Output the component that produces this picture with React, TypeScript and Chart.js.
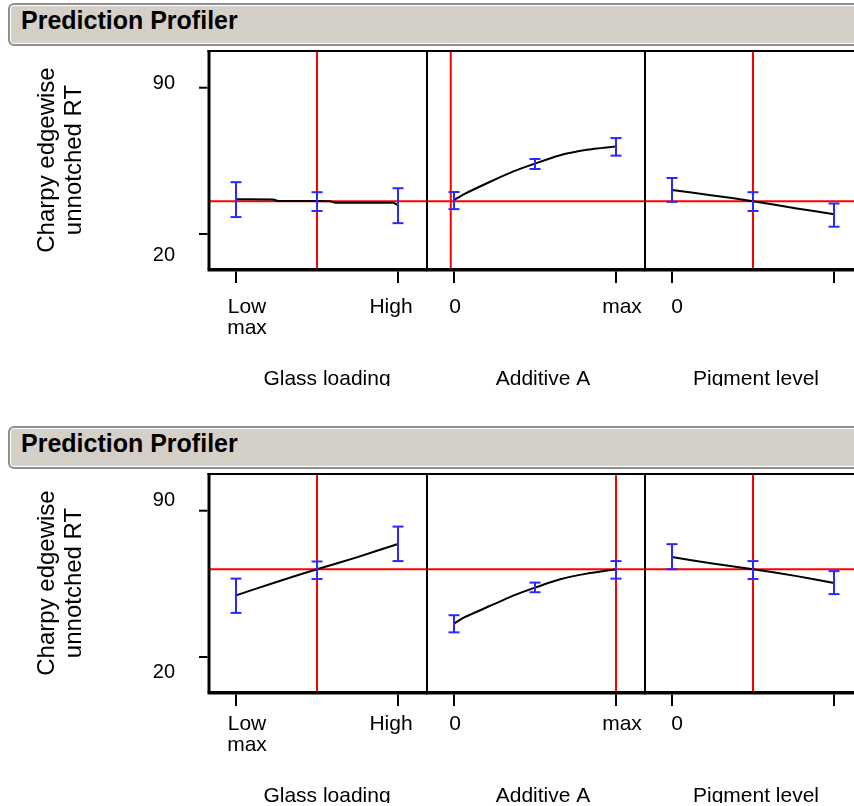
import React, { useEffect, useRef } from "react";
import { Chart, registerables } from "chart.js";

Chart.register(...registerables);

// ---------------- data ----------------
const headerTitle = "Prediction Profiler";
const responseTitleLines = ["Charpy edgewise", "unnotched RT"];
const factorNames = ["Glass loading", "Additive A", "Pigment level"];
const factorTickValues = [0, 1];
const glassTickLabels = [["Low", "max"], ["High"]];
const additiveTickLabels = [["0"], ["max"]];
const pigmentTickLabels = [["0"], [""]];
const responseTickValues = [90, 20];
const responseTickLabels = ["90", "20"];
const levelPositions = [0, 0.5, 1];

// Profiler 1 (Additive A held at 0)
const p1Predicted = 35.7;
const p1Settings = [0.5, -0.02, 0.5];
const p1GlassX = [0, 0.23, 0.26, 0.58, 0.61, 0.97, 1];
const p1GlassY = [36.6, 36.5, 35.8, 35.7, 35.0, 34.9, 33.8];
const p1GlassLow = [28.1, 31.0, 25.2];
const p1GlassHigh = [44.8, 40.0, 41.9];
const p1AdditiveX = [0, 0.06, 0.22, 0.37, 0.5, 0.65, 0.82, 1];
const p1AdditiveY = [36.2, 39.0, 44.9, 50.1, 53.7, 57.6, 60.3, 61.9];
const p1AdditiveLow = [31.9, 51.1, 57.5];
const p1AdditiveHigh = [40.1, 55.9, 65.9];
const p1PigmentX = [0, 0.24, 0.5, 0.77, 1];
const p1PigmentY = [41.1, 38.6, 35.7, 32.2, 29.5];
const p1PigmentLow = [35.4, 31.0, 23.5];
const p1PigmentHigh = [46.8, 40.0, 34.6];

// Profiler 2 (Additive A held at max)
const p2Predicted = 62.0;
const p2Settings = [0.5, 1, 0.5];
const p2GlassX = [0, 0.25, 0.5, 0.75, 1];
const p2GlassY = [49.5, 55.9, 62.0, 67.8, 74.1];
const p2GlassLow = [41.1, 57.3, 65.9];
const p2GlassHigh = [57.5, 65.7, 82.4];
const p2AdditiveX = [0, 0.06, 0.22, 0.37, 0.5, 0.65, 0.82, 1];
const p2AdditiveY = [36.0, 38.8, 44.4, 49.5, 53.2, 57.1, 59.9, 62.0];
const p2AdditiveLow = [31.8, 51.0, 57.5];
const p2AdditiveHigh = [40.0, 55.6, 65.9];
const p2PigmentX = [0, 0.24, 0.5, 0.77, 1];
const p2PigmentY = [67.8, 64.9, 62.0, 58.7, 55.4];
const p2PigmentLow = [62.0, 57.3, 50.1];
const p2PigmentHigh = [74.0, 65.9, 61.1];

// ---------------- scale ranges & layout ----------------
const X_MIN = -27 / 162;
const X_MAX = 191 / 162;
const Y_MIN = 3.26;
const Y_MAX = 107.56;

const FONT = '"Liberation Sans", Arial, Helvetica, sans-serif';
const RED = "#ff0000";
const BLUE = "#2a2aff";
const PLOT_LEFT = [209, 427, 645];
const PLOT_W = 218;
const PLOT_TOP = 51;
const PLOT_H = 218;
const PAD_T = 5;
const PAD_B = 117;
const PANEL_TOPS = [0, 423];
const PANEL_HEIGHTS = [386, 380];
const PANEL_TEXT_DY = [0, -6];
const TICK_DX = [[11, -7], [1, 6], [5, 0]];
const TITLE_DX = [9, 7, 2];
const Y_LABEL_DY = [1, 27];

type Sub = {
  curveX: number[];
  curveY: number[];
  low: number[];
  high: number[];
  setting: number;
  predicted: number;
  tickLabels: string[][];
};

const panels: Sub[][] = [
  [
    { curveX: p1GlassX, curveY: p1GlassY, low: p1GlassLow, high: p1GlassHigh, setting: p1Settings[0], predicted: p1Predicted, tickLabels: glassTickLabels },
    { curveX: p1AdditiveX, curveY: p1AdditiveY, low: p1AdditiveLow, high: p1AdditiveHigh, setting: p1Settings[1], predicted: p1Predicted, tickLabels: additiveTickLabels },
    { curveX: p1PigmentX, curveY: p1PigmentY, low: p1PigmentLow, high: p1PigmentHigh, setting: p1Settings[2], predicted: p1Predicted, tickLabels: pigmentTickLabels },
  ],
  [
    { curveX: p2GlassX, curveY: p2GlassY, low: p2GlassLow, high: p2GlassHigh, setting: p2Settings[0], predicted: p2Predicted, tickLabels: glassTickLabels },
    { curveX: p2AdditiveX, curveY: p2AdditiveY, low: p2AdditiveLow, high: p2AdditiveHigh, setting: p2Settings[1], predicted: p2Predicted, tickLabels: additiveTickLabels },
    { curveX: p2PigmentX, curveY: p2PigmentY, low: p2PigmentLow, high: p2PigmentHigh, setting: p2Settings[2], predicted: p2Predicted, tickLabels: pigmentTickLabels },
  ],
];

function makeDecor(sub: Sub, idx: number, textDy: number) {
  const isFirst = idx === 0;
  return {
    id: "profilerDecor",
    afterDraw(chart: any) {
      const { ctx, chartArea: a } = chart;
      const xs = chart.scales.x;
      const ys = chart.scales.y;
      ctx.save();
      ctx.strokeStyle = "#000";
      ctx.fillStyle = "#000";
      ctx.lineCap = "butt";
      const seg = (x1: number, y1: number, x2: number, y2: number, w: number) => {
        ctx.lineWidth = w;
        ctx.beginPath();
        ctx.moveTo(x1, y1);
        ctx.lineTo(x2, y2);
        ctx.stroke();
      };
      const leftW = isFirst ? 3 : 2;
      seg(a.left - leftW / 2, a.top, a.right, a.top, 2);
      seg(a.left - leftW / 2, a.bottom + 0.75, a.right, a.bottom + 0.75, 3.5);
      seg(a.left, a.top - 1, a.left, a.bottom, leftW);

      ctx.textBaseline = "alphabetic";
      ctx.textAlign = "center";
      ctx.font = `21px ${FONT}`;
      factorTickValues.forEach((v, i) => {
        const px = xs.getPixelForValue(v);
        seg(px, a.bottom + 2.5, px, a.bottom + 14, 2);
        sub.tickLabels[i].forEach((line, j) => {
          if (line) ctx.fillText(line, px + TICK_DX[idx][i], a.bottom + 44 + j * 21 + textDy);
        });
      });
      ctx.fillText(factorNames[idx], (a.left + a.right) / 2 + TITLE_DX[idx], a.bottom + 116 + textDy);

      if (isFirst) {
        ctx.textAlign = "right";
        ctx.font = `20px ${FONT}`;
        responseTickValues.forEach((v, i) => {
          const py = ys.getPixelForValue(v);
          seg(a.left - 10, py, a.left - 1.5, py, 2);
          ctx.fillText(responseTickLabels[i], a.left - 34, py + Y_LABEL_DY[i] + textDy);
        });
        ctx.font = `24px ${FONT}`;
        ctx.textAlign = "center";
        responseTitleLines.forEach((line, j) => {
          ctx.save();
          ctx.translate(a.left - 155 + j * 27, (a.top + a.bottom) / 2);
          ctx.rotate(-Math.PI / 2);
          ctx.fillText(line, 0, 0);
          ctx.restore();
        });
      }
      ctx.restore();
    },
  };
}

function Cell({ sub, idx, textDy }: { sub: Sub; idx: number; textDy: number }) {
  const ref = useRef<HTMLCanvasElement>(null);
  const padL = idx === 0 ? PLOT_LEFT[0] : 4;
  const padR = 4;
  const w = padL + PLOT_W + padR;
  const h = PAD_T + PLOT_H + PAD_B;
  useEffect(() => {
    const datasets: any[] = [
      { data: [{ x: X_MIN, y: sub.predicted }, { x: X_MAX, y: sub.predicted }], borderColor: RED, borderWidth: 2, pointRadius: 0, order: 4 },
      { data: [{ x: sub.setting, y: Y_MIN }, { x: sub.setting, y: Y_MAX }], borderColor: RED, borderWidth: 2, pointRadius: 0, order: 4 },
      {
        data: sub.curveX.map((x, i) => ({ x, y: sub.curveY[i] })),
        borderColor: "#000",
        borderWidth: 2,
        pointRadius: 0,
        tension: 0.2,
        order: 2,
      },
      ...levelPositions.map((x, i) => ({
        data: [{ x, y: sub.low[i] }, { x, y: sub.high[i] }],
        borderColor: BLUE,
        borderWidth: 2,
        pointStyle: "line",
        pointRadius: 5.5,
        pointBorderColor: BLUE,
        pointBackgroundColor: BLUE,
        pointBorderWidth: 2,
        order: 1,
      })),
    ];
    const chart = new Chart(ref.current as HTMLCanvasElement, {
      type: "line",
      data: { datasets },
      options: {
        responsive: false,
        animation: false,
        devicePixelRatio: 1,
        events: [],
        layout: { autoPadding: false, padding: { left: padL, right: padR, top: PAD_T, bottom: PAD_B } },
        scales: {
          x: { type: "linear", min: X_MIN, max: X_MAX, display: false },
          y: { type: "linear", min: Y_MIN, max: Y_MAX, display: false },
        },
        plugins: { legend: { display: false }, tooltip: { enabled: false } },
      },
      plugins: [makeDecor(sub, idx, textDy)],
    } as any);
    return () => chart.destroy();
  }, []);
  return (
    <canvas
      ref={ref}
      width={w}
      height={h}
      style={{ position: "absolute", left: PLOT_LEFT[idx] - padL, top: PLOT_TOP - PAD_T, width: w, height: h }}
    />
  );
}

function Panel({ subs, k }: { subs: Sub[]; k: number }) {
  return (
    <div style={{ position: "absolute", left: 0, top: PANEL_TOPS[k], width: 854, height: PANEL_HEIGHTS[k], overflow: "hidden" }}>
      <div
        style={{
          position: "absolute",
          left: 8,
          top: 3,
          width: 900,
          height: 39,
          border: "2px solid #8e8e8e",
          borderRadius: 6,
          background: "#d4d0c8",
          boxShadow: "inset 0 0 0 1px #ffffff",
        }}
      >
        <span
          style={{
            position: "absolute",
            left: 11,
            top: 1,
            lineHeight: "39px",
            font: `bold 25px ${FONT}`,
            color: "#000",
            whiteSpace: "nowrap",
          }}
        >
          {headerTitle}
        </span>
      </div>
      {subs.map((s, i) => (
        <Cell key={i} sub={s} idx={i} textDy={PANEL_TEXT_DY[k]} />
      ))}
    </div>
  );
}

export default function App() {
  return (
    <div style={{ position: "absolute", left: 0, top: 0, width: 854, height: 806, overflow: "hidden", background: "#fff" }}>
      {panels.map((subs, k) => (
        <Panel key={k} subs={subs} k={k} />
      ))}
    </div>
  );
}
